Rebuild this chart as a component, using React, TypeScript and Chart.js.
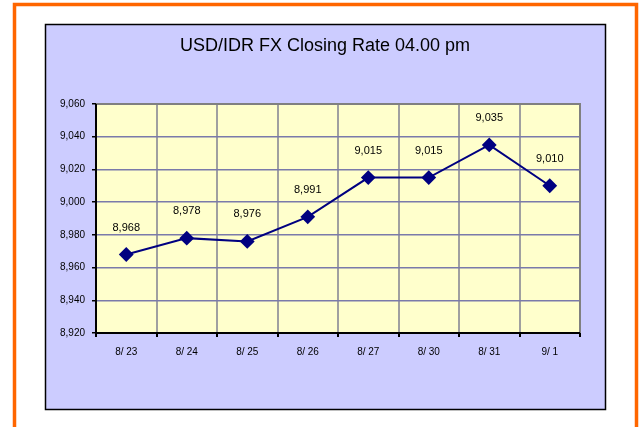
import React, { useEffect, useRef } from "react";
import { Chart, registerables } from "chart.js";

Chart.register(...registerables);

const categories = ["8/ 23", "8/ 24", "8/ 25", "8/ 26", "8/ 27", "8/ 30", "8/ 31", "9/ 1"];
const rates = [8968, 8978, 8976, 8991, 9015, 9015, 9035, 9010];
const yMin = 8920;
const yMax = 9060;
const yStep = 20;
const titleText = "USD/IDR FX Closing Rate 04.00 pm";

const fmt = (v: number) => v.toLocaleString("en-US");

const framePlugin = {
  id: "frame",
  beforeDraw(chart: any) {
    const ctx = chart.ctx;
    ctx.save();
    ctx.fillStyle = "#ffffff";
    ctx.fillRect(0, 0, 640, 427);
    // orange frame
    ctx.strokeStyle = "#ff6600";
    ctx.lineWidth = 3.5;
    ctx.strokeRect(14.5, 4.5, 622, 440);
    // lavender chart box
    ctx.fillStyle = "#ccccff";
    ctx.fillRect(45, 24, 561, 386);
    ctx.strokeStyle = "#000000";
    ctx.lineWidth = 1.5;
    ctx.strokeRect(45.5, 24.5, 560, 385);
    // plot area
    const a = chart.chartArea;
    ctx.fillStyle = "#ffffcc";
    ctx.fillRect(a.left, a.top, a.right - a.left, a.bottom - a.top);
    // title
    ctx.fillStyle = "#000000";
    ctx.font = "18px 'Liberation Sans', Arial, sans-serif";
    ctx.textAlign = "center";
    ctx.textBaseline = "middle";
    ctx.fillText(titleText, 325, 46);
    ctx.restore();
  },
  afterDraw(chart: any) {
    const ctx = chart.ctx;
    const a = chart.chartArea;
    ctx.save();
    // plot border top/right gray
    ctx.strokeStyle = "#808080";
    ctx.lineWidth = 2;
    ctx.beginPath();
    ctx.moveTo(a.left, a.top);
    ctx.lineTo(a.right, a.top);
    ctx.lineTo(a.right, a.bottom);
    ctx.stroke();
    // axes black
    ctx.strokeStyle = "#000000";
    ctx.lineWidth = 2;
    ctx.beginPath();
    ctx.moveTo(a.left, a.top);
    ctx.lineTo(a.left, a.bottom);
    ctx.lineTo(a.right, a.bottom);
    ctx.stroke();
    // data labels
    const meta = chart.getDatasetMeta(0);
    ctx.fillStyle = "#000000";
    ctx.font = "11px 'Liberation Sans', Arial, sans-serif";
    ctx.textAlign = "center";
    ctx.textBaseline = "middle";
    meta.data.forEach((pt: any, i: number) => {
      ctx.fillText(fmt(rates[i]), pt.x, pt.y - 27);
    });
    ctx.restore();
  },
};

export default function App() {
  const ref = useRef<HTMLCanvasElement>(null);
  useEffect(() => {
    if (!ref.current) return;
    const chart = new Chart(ref.current, {
      type: "line",
      data: {
        labels: categories,
        datasets: [
          {
            data: rates,
            borderColor: "#000080",
            backgroundColor: "#000080",
            borderWidth: 2,
            pointStyle: "rectRot",
            pointRadius: 6,
            pointBackgroundColor: "#000080",
            pointBorderColor: "#000080",
            tension: 0,
          },
        ],
      },
      options: {
        animation: false,
        responsive: false,
        layout: { padding: { left: 45, top: 104, right: 60, bottom: 17 } },
        plugins: { legend: { display: false }, tooltip: { enabled: false }, title: { display: false } },
        scales: {
          x: {
            type: "category",
            offset: true,
            grid: {
              offset: true,
              color: "#a0a0a0",
              lineWidth: 2,
              tickLength: 4,
              tickColor: "#000000",
              drawOnChartArea: true,
            },
            border: { display: false },
            ticks: {
              color: "#000000",
              padding: 9,
              font: { family: "'Liberation Sans', Arial, sans-serif", size: 10 },
              maxRotation: 0,
            },
            afterFit(scale: any) {
              scale.height = 77;
            },
          },
          y: {
            min: yMin,
            max: yMax,
            grid: {
              color: "#7a7aaa",
              lineWidth: 1.5,
              tickLength: 4,
              tickColor: "#000000",
            },
            border: { display: false },
            ticks: {
              stepSize: yStep,
              color: "#000000",
              padding: 7,
              font: { family: "'Liberation Sans', Arial, sans-serif", size: 10 },
              callback: (v: any) => fmt(Number(v)),
            },
            afterFit(scale: any) {
              scale.width = 51;
            },
          },
        },
      },
      plugins: [framePlugin],
    });
    return () => chart.destroy();
  }, []);
  return (
    <div style={{ position: "fixed", left: 0, top: 0, width: 640, height: 427 }}>
      <canvas ref={ref} width={640} height={427} style={{ width: 640, height: 427, display: "block" }} />
    </div>
  );
}
